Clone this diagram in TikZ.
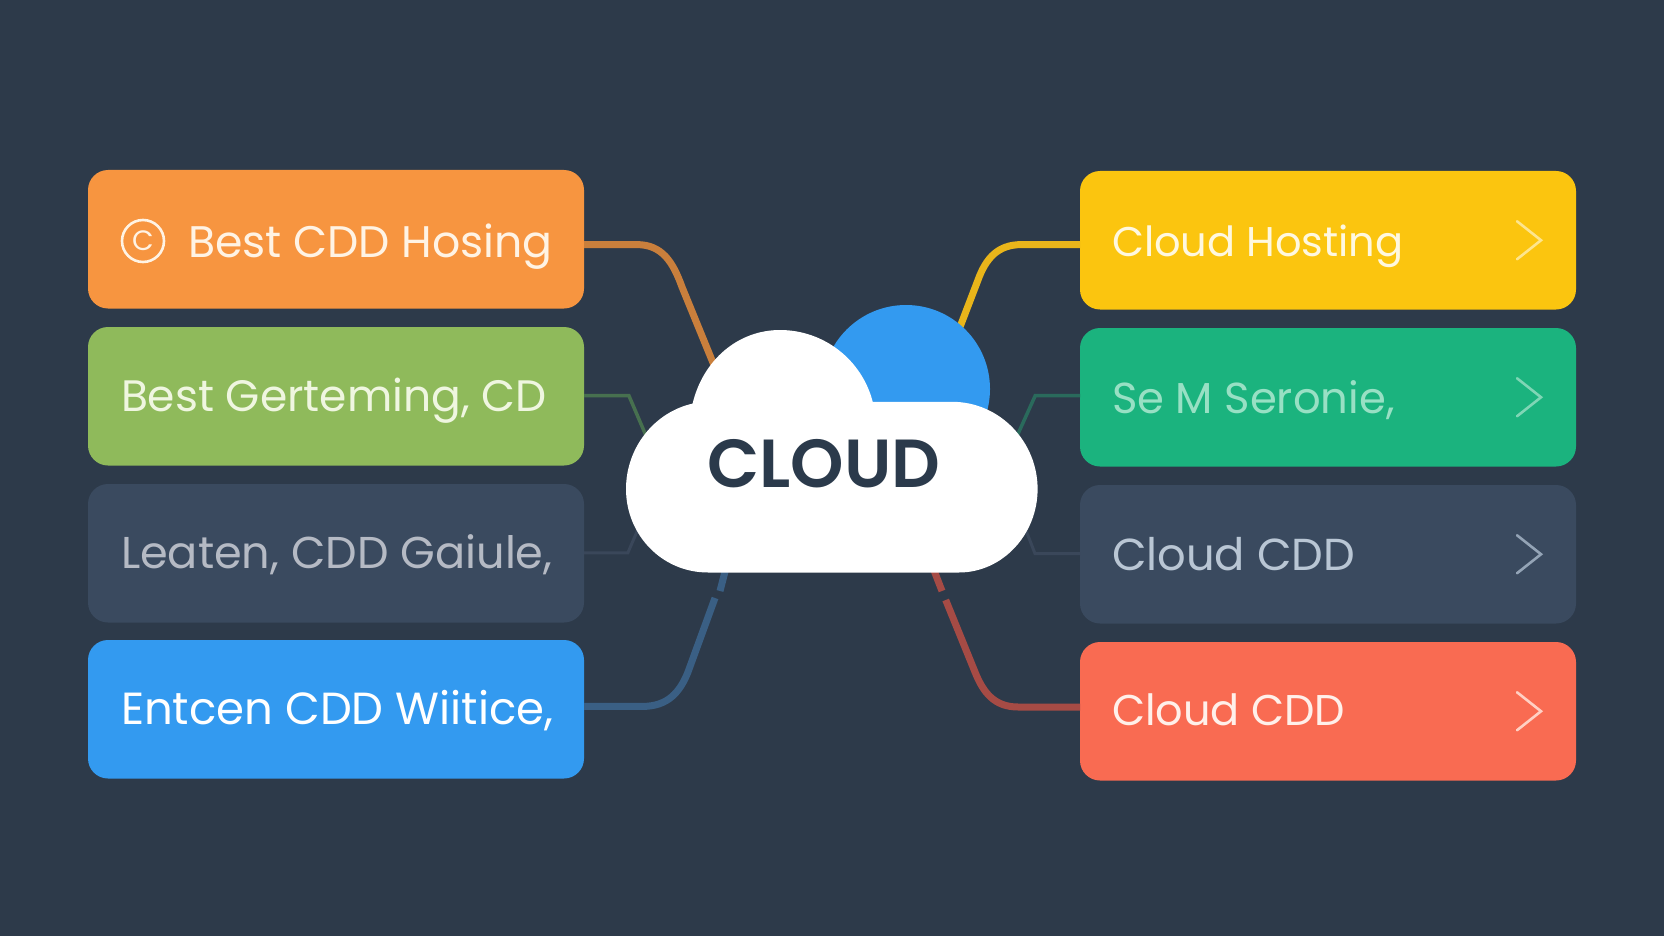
\documentclass[tikz,border=0pt]{standalone}
\usepackage{fontspec}
\setmainfont{Poppins}
\newfontfamily\cloudfont{Poppins SemiBold}
\usetikzlibrary{calc}
\definecolor{bgc}{HTML}{2D3A4A}
\definecolor{cOrange}{HTML}{F79540}
\definecolor{cGreen}{HTML}{8FBA5B}
\definecolor{cSlate}{HTML}{3A4A5F}
\definecolor{cBlue}{HTML}{339AF0}
\definecolor{cYellow}{HTML}{FBC50F}
\definecolor{cTeal}{HTML}{1BB37E}
\definecolor{cRed}{HTML}{F96B52}
\definecolor{lOrange}{HTML}{C97F3C}
\definecolor{lGreen}{HTML}{47704F}
\definecolor{lSlate}{HTML}{3A475A}
\definecolor{lBlue}{HTML}{3A5F84}
\definecolor{lYellow}{HTML}{E9B51A}
\definecolor{lTeal}{HTML}{2A6A5C}
\definecolor{lRed}{HTML}{A64B45}
\definecolor{tSlate}{HTML}{B5BAC4}
\definecolor{tSlateB}{HTML}{B9C6D4}
\definecolor{tTeal}{HTML}{98E0C4}
\definecolor{tGreen}{HTML}{EFF6E0}
\definecolor{tOrange}{HTML}{FFF3E4}
\definecolor{tYellow}{HTML}{FFF8DF}
\definecolor{tRed}{HTML}{FFF0EA}
\definecolor{vYellow}{HTML}{FDE58E}
\definecolor{vTeal}{HTML}{7FD6B5}
\definecolor{vSlate}{HTML}{94A4B6}
\definecolor{vRed}{HTML}{FFD0C4}
\definecolor{cloudInk}{HTML}{2B3A4B}
\tikzset{
  x=1pt,y=-1pt,
  card/.style={rectangle,rounded corners=20pt,minimum width=496pt,minimum height=138.5pt,inner sep=0pt,outer sep=0pt,anchor=north west},
  lbl/.style={anchor=base west,inner sep=0pt,outer sep=0pt,font=\fontsize{#1}{#1}\selectfont},
  chev/.style={line width=2.6pt,line cap=round,line join=miter},
  link/.style={line width=7pt},
  thin link/.style={line width=3.5pt},
}
\begin{document}
\begin{tikzpicture}
\useasboundingbox (0,0) rectangle (1664,936);
\fill[bgc] (0,0) rectangle (1664,936);
% cards
\node[card,fill=cOrange] (a1) at (88,170) {};
\node[card,fill=cGreen] (a2) at (88,327) {};
\node[card,fill=cSlate] (a3) at (88,484) {};
\node[card,fill=cBlue] (a4) at (88,640) {};
\node[card,fill=cYellow] (b1) at (1080,171) {};
\node[card,fill=cTeal] (b2) at (1080,328) {};
\node[card,fill=cSlate] (b3) at (1080,485) {};
\node[card,fill=cRed] (b4) at (1080,642) {};
% connector ends behind the cloud
\coordinate (e1) at (718,375);
\coordinate (e2) at (650,445);
\coordinate (e3) at (645,513);
\coordinate (e4a) at (715,598);
\coordinate (e4b) at (720,591);
\coordinate (e4c) at (728,560);
\coordinate (f1) at (955,340);
\coordinate (f2) at (1013,445);
\coordinate (f3) at (1020,515);
\coordinate (f4a) at (945.7,600);
\coordinate (f4b) at (942,591);
\coordinate (f4c) at (930,560);
% connectors
\draw[link,lOrange] (a1.east|-0,244.6) -- (637,244.6) .. controls (662,244.6) and (673,262) .. (682,287) -- (e1);
\draw[thin link,lGreen] (a2.east|-0,395.7) -- (628.9,395.7) -- (e2);
\draw[line width=3pt,lSlate] (a3.east|-0,552.9) -- (627.8,552.9) -- (e3);
\draw[link,lBlue] (a4.east|-0,706.4) -- (642.6,706.4) .. controls (668,706.4) and (680,692) .. (688,672) -- (e4a);
\draw[link,lBlue] (e4b) -- (e4c);
\draw[link,lYellow] (b1.west|-0,244.6) -- (1021.4,244.6) .. controls (998,244.6) and (986,258) .. (978,280) -- (f1);
\draw[thin link,lTeal] (b2.west|-0,395.7) -- (1035.2,395.7) -- (f2);
\draw[line width=3pt,lSlate] (b3.west|-0,553.6) -- (1035,553.6) -- (f3);
\draw[link,lRed] (b4.west|-0,707) -- (1018,707) .. controls (994,707) and (983,692) .. (975,672) -- (f4a);
\draw[link,lRed] (f4b) -- (f4c);
% cloud
\fill[cBlue] (906,389) circle[radius=84];
\fill[white] (708,572.5) .. controls (662,572.5) and (626,535) .. (626,489)
  .. controls (626,447) and (655,412) .. (692.6,403.6)
  .. controls (703,360) and (738,330) .. (780,330)
  .. controls (824,330) and (862,360) .. (872.7,401.8)
  -- (952,401.8) .. controls (1000,401.8) and (1037.6,442) .. (1037.6,489)
  .. controls (1037.6,535) and (1002,572.5) .. (959,572.5) -- cycle;
\node[anchor=base,inner sep=0pt,text=cloudInk,font=\fontsize{68}{68}\selectfont\cloudfont] (centre) at (824,487.5) {CLOUD};
% icon
\node[circle,draw=tOrange,line width=2.6pt,minimum size=42pt,inner sep=0pt,text=tOrange,font=\fontsize{28}{28}\selectfont] (icon) at (143,241) {C};
% labels
\node[lbl=44.2,text=tOrange] (ta1) at (188,257) {Best CDD Hosing};
\node[lbl=44,text=tGreen] (ta2) at (121,411) {Best Gerteming, CD};
\node[lbl=44.6,text=tSlate] (ta3) at (121,568) {Leaten, CDD Gaiule,};
\node[lbl=45,text=white] (ta4) at (121,724) {Entcen CDD Wiitice,};
\node[lbl=41.5,text=tYellow] (tb1) at (1112,256) {Cloud Hosting};
\node[lbl=43.3,text=tTeal] (tb2) at (1112,413) {Se M Seronie,};
\node[lbl=44.8,text=tSlateB] (tb3) at (1112,570) {Cloud CDD};
\node[lbl=43,text=tRed] (tb4) at (1112,725) {Cloud CDD};
% chevrons
\draw[chev,vYellow] ($(b1.east)+(-59,-19)$) -- ++(24,19) -- ++(-24,19);
\draw[chev,vTeal] ($(b2.east)+(-59,-19)$) -- ++(24,19) -- ++(-24,19);
\draw[chev,vSlate] ($(b3.east)+(-59,-19)$) -- ++(24,19) -- ++(-24,19);
\draw[chev,vRed] ($(b4.east)+(-59,-19)$) -- ++(24,19) -- ++(-24,19);
\end{tikzpicture}
\end{document}
